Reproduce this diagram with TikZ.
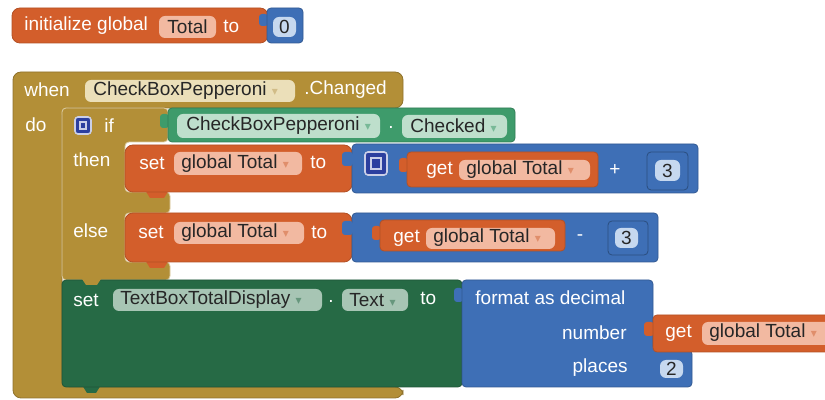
\documentclass[tikz,border=0pt]{standalone}
\usepackage{fontspec}
\setmainfont{Liberation Sans}
\newfontfamily\arrfont{DejaVu Sans}

\definecolor{varorange}{HTML}{D35E2B}
\definecolor{mathblue}{HTML}{3E6FB6}
\definecolor{ctrlgold}{HTML}{B38F37}
\definecolor{compgreen}{HTML}{3E9B6B}
\definecolor{setgreen}{HTML}{266A45}
\definecolor{mutblue}{HTML}{2C3F9F}
\definecolor{orfld}{HTML}{F2B9A1}
\definecolor{goldfld}{HTML}{EBDFB9}
\definecolor{grfld}{HTML}{BEDFCC}
\definecolor{dgrfld}{HTML}{A7C5B4}
\definecolor{blfld}{HTML}{C6D8EF}

\newcommand{\dropdn}[1]{{\arrfont\fontsize{6}{6}\selectfont\textcolor{#1}{▾}}}

\tikzset{
  lbl/.style={text=white, font=\fontsize{9.5}{10}\selectfont, inner sep=0pt},
  fldtext/.style={text=black!85, font=\fontsize{9.5}{10}\selectfont, inner sep=0pt},
  blk/.style={line width=0.4pt, rounded corners=2pt},
  fld/.style={rounded corners=3pt},
  mutator/.style={fill=mutblue, draw=white!75!mutblue, line width=0.8pt, rounded corners=1.5pt}
}

\begin{document}
\begin{tikzpicture}[x=0.5pt, y=-0.5pt]
    \useasboundingbox (0,0) rectangle (825,400);
    \clip (0,0) rectangle (825,400);

    % initialize global
    \fill[blk, varorange, draw=varorange!85!black, rounded corners=4pt] (12,8) rectangle (268,43);
    \node[lbl, anchor=west] (init) at (24,26) {initialize global};
    \fill[fld, orfld] (159,16) rectangle (216,38);
    \node[fldtext] (initname) at (187.5,27) {Total};
    \node[lbl, anchor=west] (initto) at (223,26) {to};
    \fill[mathblue, rounded corners=1.5pt] (259,14) rectangle (268,26);
    \fill[blk, mathblue, draw=mathblue!80!black] (267,8) rectangle (303,43);
    \fill[fld, blfld] (273,17) rectangle (296,37);
    \node[fldtext] (zero) at (284.5,27) {0};

    % when ... do
    \filldraw[blk, fill=ctrlgold, draw=ctrlgold!80!black, rounded corners=4pt]
        (13,72) -- (403,72) -- (403,108) -- (62,108) -- (62,387)
        -- (403,387) -- (403,398) -- (13,398) -- cycle;
    \node[lbl, anchor=west] (when) at (24,90) {when};
    \fill[fld, goldfld] (85,80) rectangle (295,102);
    \node[fldtext, anchor=west] (evcomp) at (93,91) {CheckBoxPepperoni \dropdn{ctrlgold!60}};
    \node[lbl, anchor=west] (changed) at (304,90) {.Changed};
    \node[lbl, anchor=west] (do) at (25,125) {do};

    % if then else
    \filldraw[blk, fill=ctrlgold, draw=ctrlgold!45!white]
        (62,108) -- (168,108) -- (168,142) -- (125,142) -- (125,192)
        -- (170,192) -- (170,213) -- (125,213) -- (125,262)
        -- (170,262) -- (170,280) -- (62,280) -- cycle;
    \draw[mutator] (75,117) rectangle (91,134);
    \draw[white!75!mutblue, line width=0.6pt] (80,122) rectangle (86,129);
    \node[lbl, anchor=west] (if) at (104,126) {if};
    \node[lbl, anchor=west] (then) at (73,160) {then};
    \node[lbl, anchor=west] (else) at (73,231) {else};

    % CheckBoxPepperoni.Checked
    \fill[compgreen, rounded corners=1.5pt] (160,114) rectangle (169,128);
    \fill[blk, compgreen, draw=compgreen!80!black] (168,108) rectangle (515,142);
    \fill[fld, grfld] (177,114) rectangle (380,138);
    \node[fldtext, anchor=west] (chkcomp) at (186,126) {CheckBoxPepperoni \dropdn{compgreen!70}};
    \node[lbl] (chkdot) at (391,127) {.};
    \fill[fld, grfld] (402,115) rectangle (507,138);
    \node[fldtext, anchor=west] (chkprop) at (410,126) {Checked \dropdn{compgreen!70}};

    % then: set global Total to Total + 3
    \fill[varorange] (145,190) -- (150,198) -- (164,198) -- (169,190) -- cycle;
    \fill[blk, varorange, draw=varorange!85!black, rounded corners=4pt] (125,145) rectangle (352,192);
    \node[lbl, anchor=west] (set1) at (139,163) {set};
    \fill[fld, orfld] (174,152) rectangle (302,175);
    \node[fldtext, anchor=west] (set1var) at (181,164) {global Total \dropdn{varorange!70}};
    \node[lbl, anchor=west] (set1to) at (310,162) {to};
    \fill[blk, mathblue, draw=mathblue!80!black] (352,144) rectangle (698,193);
    \fill[mathblue, rounded corners=1.5pt] (342,152) rectangle (353,166);
    \draw[mutator] (365,152) rectangle (387,175);
    \draw[white!75!mutblue, line width=0.6pt] (371,158) rectangle (381,169);
    \fill[varorange, rounded corners=1.5pt] (399,158) rectangle (408,172);
    \fill[blk, varorange, draw=varorange!85!black] (407,152) rectangle (598,187);
    \node[lbl, anchor=west] (get1) at (426,170) {get};
    \fill[fld, orfld] (459,160) rectangle (590,180);
    \node[fldtext, anchor=west] (get1var) at (466,170) {global Total \dropdn{varorange!70}};
    \node[lbl] (plus) at (615,170) {+};
    \fill[blk, mathblue, draw=mathblue!70!black] (647,152) rectangle (688,190);
    \fill[fld, blfld] (655,160) rectangle (680,181);
    \node[fldtext] (three1) at (667.5,171) {3};

    % else: set global Total to Total - 3
    \fill[varorange] (145,260) -- (150,268) -- (164,268) -- (169,260) -- cycle;
    \fill[blk, varorange, draw=varorange!85!black, rounded corners=4pt] (125,213) rectangle (352,262);
    \node[lbl, anchor=west] (set2) at (138,232) {set};
    \fill[fld, orfld] (174,222) rectangle (304,244);
    \node[fldtext, anchor=west] (set2var) at (181,233) {global Total \dropdn{varorange!70}};
    \node[lbl, anchor=west] (set2to) at (311,232) {to};
    \fill[blk, mathblue, draw=mathblue!80!black] (352,213) rectangle (658,262);
    \fill[mathblue, rounded corners=1.5pt] (342,221) rectangle (353,235);
    \fill[varorange, rounded corners=1.5pt] (372,226) rectangle (381,240);
    \fill[blk, varorange, draw=varorange!85!black] (380,220) rectangle (565,251);
    \node[lbl, anchor=west] (get2) at (393,238) {get};
    \fill[fld, orfld] (426,228) rectangle (555,249);
    \node[fldtext, anchor=west] (get2var) at (433,238) {global Total \dropdn{varorange!70}};
    \node[lbl] (minus) at (580,238) {-};
    \fill[blk, mathblue, draw=mathblue!70!black] (608,221) rectangle (648,255);
    \fill[fld, blfld] (615,228) rectangle (638,248);
    \node[fldtext] (three2) at (626.5,238) {3};

    % set TextBoxTotalDisplay.Text
    \fill[setgreen] (82,385) -- (87,393) -- (96,393) -- (101,385) -- cycle;
    \fill[blk, setgreen, draw=setgreen!80!black] (62,280) rectangle (462,387);
    \fill[ctrlgold] (82,279) -- (86,285) -- (97,285) -- (101,279) -- cycle;
    \node[lbl, anchor=west] (set3) at (73,300) {set};
    \fill[fld, dgrfld] (113,289) rectangle (322,311);
    \node[fldtext, anchor=west] (txtcomp) at (120,300) {TextBoxTotalDisplay \dropdn{setgreen!70}};
    \node[lbl] (txtdot) at (331,301) {.};
    \fill[fld, dgrfld] (342,289) rectangle (408,311);
    \node[fldtext, anchor=west] (txtprop) at (349,300) {Text \dropdn{setgreen!70}};
    \node[lbl, anchor=west] (set3to) at (420,298) {to};

    % format as decimal
    \fill[mathblue, rounded corners=1.5pt] (454,288) rectangle (463,302);
    \filldraw[blk, fill=mathblue, draw=mathblue!80!black]
        (462,280) -- (653,280) -- (653,350) -- (692,350) -- (692,387) -- (462,387) -- cycle;
    \node[lbl, anchor=west] (fmt) at (475,298) {format as decimal};
    \node[lbl, anchor=east] (number) at (627,333) {number};
    \node[lbl, anchor=east] (places) at (628,368) {places};
    \fill[varorange, rounded corners=1.5pt] (644,322) rectangle (654,336);
    \fill[blk, varorange, draw=varorange!85!black] (653,315) rectangle (860,352);
    \node[lbl, anchor=west] (get3) at (665,333) {get};
    \fill[fld, orfld] (702,322) rectangle (850,345);
    \node[fldtext, anchor=west] (get3var) at (709,333) {global Total \dropdn{varorange!70}};
    \fill[fld, blfld] (660,360) rectangle (683,378);
    \node[fldtext] (two) at (671.5,369) {2};
\end{tikzpicture}
\end{document}
